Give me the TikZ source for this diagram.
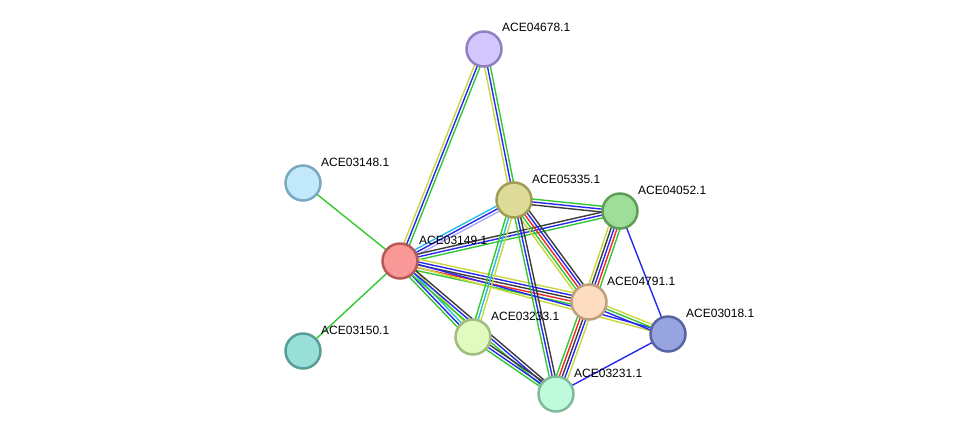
\documentclass[tikz,border=0pt]{standalone}
\usepackage{fontspec}
\setmainfont{Liberation Sans}
\usetikzlibrary{calc}
\pgfdeclarelayer{background}
\pgfsetlayers{background,main}
\definecolor{cgreen}{RGB}{50,200,50}
\definecolor{cblue}{RGB}{40,40,240}
\definecolor{cblack}{RGB}{60,60,60}
\definecolor{cred}{RGB}{240,40,40}
\definecolor{cyellow}{RGB}{200,215,60}
\definecolor{ccyan}{RGB}{40,190,220}
\definecolor{clav}{RGB}{170,170,245}
\tikzset{
  prot/.style={circle, minimum size=35pt, inner sep=0pt, line width=2.5pt},
  plabel/.style={anchor=west, font=\fontsize{12pt}{14pt}\selectfont, inner sep=0pt}
}
\newcommand\medge[4]{%
  \foreach \c [count=\i] in {#4} {%
    \pgfmathsetmacro\off{(\i-(#3+1)/2)*2.9}%
    \draw[\c, line width=1.4pt] ($(#1)!\off pt!90:(#2)$) -- ($(#2)!\off pt!-90:(#1)$);%
  }%
}
\begin{document}
\begin{tikzpicture}[x=1pt,y=-1pt]
\useasboundingbox (0,0) rectangle (975,440);
\node[prot, draw={rgb,255:red,144;green,128;blue,192}, fill={rgb,255:red,210;green,198;blue,252}] (n04678) at (484,49) {};
\node[prot, draw={rgb,255:red,123;green,167;blue,192}, fill={rgb,255:red,194;green,232;blue,252}] (n03148) at (303,183) {};
\node[prot, draw={rgb,255:red,160;green,158;blue,84}, fill={rgb,255:red,222;green,220;blue,152}] (n05335) at (514,200) {};
\node[prot, draw={rgb,255:red,94;green,158;blue,88}, fill={rgb,255:red,158;green,222;blue,152}] (n04052) at (620,211) {};
\node[prot, draw={rgb,255:red,184;green,88;blue,88}, fill={rgb,255:red,250;green,152;blue,152}] (n03149) at (400,261) {};
\node[prot, draw={rgb,255:red,188;green,160;blue,128}, fill={rgb,255:red,253;green,220;blue,192}] (n04791) at (589,302) {};
\node[prot, draw={rgb,255:red,88;green,100;blue,160}, fill={rgb,255:red,152;green,164;blue,224}] (n03018) at (668,334) {};
\node[prot, draw={rgb,255:red,88;green,158;blue,152}, fill={rgb,255:red,152;green,224;blue,216}] (n03150) at (303,351) {};
\node[prot, draw={rgb,255:red,160;green,188;blue,128}, fill={rgb,255:red,224;green,250;blue,192}] (n03233) at (473,337) {};
\node[prot, draw={rgb,255:red,128;green,188;blue,156}, fill={rgb,255:red,192;green,250;blue,220}] (n03231) at (556,394) {};
\node[plabel] (l04678) at (502,27) {ACE04678.1};
\node[plabel] (l03148) at (321,162) {ACE03148.1};
\node[plabel] (l05335) at (532,179) {ACE05335.1};
\node[plabel] (l04052) at (638,190) {ACE04052.1};
\node[plabel] (l03149) at (419,240) {ACE03149.1};
\node[plabel] (l04791) at (607,281) {ACE04791.1};
\node[plabel] (l03018) at (686,313) {ACE03018.1};
\node[plabel] (l03150) at (321,330) {ACE03150.1};
\node[plabel] (l03233) at (491,316) {ACE03233.1};
\node[plabel] (l03231) at (574,373) {ACE03231.1};
\begin{pgfonlayer}{background}
\medge{n03149}{n03148}{1}{cgreen}
\medge{n03149}{n03150}{1}{cgreen}
\medge{n03149}{n04678}{3}{cgreen,cblue,cyellow}
\medge{n04678}{n05335}{3}{cyellow,cblue,cgreen}
\medge{n03149}{n05335}{3}{clav,cblue,ccyan}
\medge{n03149}{n04052}{3}{cgreen,cblue,cblack}
\medge{n05335}{n04052}{3}{cblack,cblue,cgreen}
\medge{n03149}{n04791}{5}{cgreen,cred,cblack,cblue,cyellow}
\medge{n03149}{n03018}{2}{cyellow,cblue}
\medge{n03149}{n03233}{4}{cgreen,cblue,ccyan,cyellow}
\medge{n03149}{n03231}{3}{cgreen,cblue,cblack}
\medge{n05335}{n04791}{5}{cyellow,cgreen,cred,cblue,cblack}
\medge{n05335}{n03231}{3}{cgreen,cblue,cblack}
\medge{n05335}{n03233}{3}{cgreen,ccyan,cyellow}
\medge{n04052}{n04791}{5}{cyellow,cblack,cblue,cred,cgreen}
\medge{n04052}{n03018}{1}{cblue}
\medge{n04791}{n03231}{5}{cgreen,cred,cblack,cblue,cyellow}
\medge{n04791}{n03018}{3}{cblue,cgreen,cyellow}
\medge{n03233}{n03231}{3}{cgreen,cblue,cblack}
\medge{n03018}{n03231}{1}{cblue}
\end{pgfonlayer}
\end{tikzpicture}
\end{document}
